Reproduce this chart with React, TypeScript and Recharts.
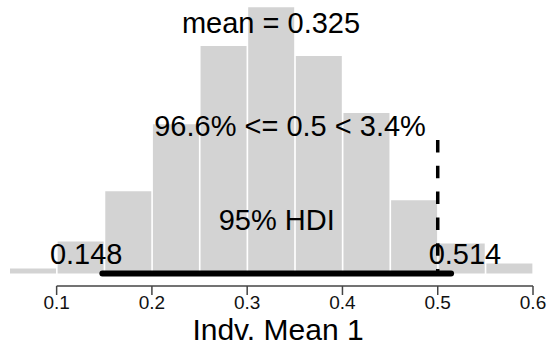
import React from 'react';
import { ComposedChart, Bar, XAxis, YAxis, ReferenceLine, ReferenceDot, Label } from 'recharts';

// posterior histogram of the first group mean
const binMids = [0.075, 0.125, 0.175, 0.225, 0.275, 0.325, 0.375, 0.425, 0.475, 0.525, 0.575];
const densities = [0.08, 0.51, 1.31, 2.38, 3.63, 4.25, 3.47, 2.56, 1.17, 0.48, 0.16];
const xTicks = [0.1, 0.2, 0.3, 0.4, 0.5, 0.6];

const meanValue = 0.325;
const compValue = 0.5;
const pctBelow = 96.6;
const pctAbove = 3.4;
const hdiLimits = [0.148, 0.514];
const hdiMass = 95;
const axisTitle = 'Indv. Mean 1';

const data = binMids.map((mid, i) => ({ mid, density: densities[i] }));

const FONT = '"Liberation Sans", Arial, Helvetica, sans-serif';

const textLabel = (value: string, size = 29) => ({
  value,
  position: 'center' as const,
  fill: '#000',
  fontSize: size,
  fontFamily: FONT,
});

export default function App() {
  return (
    <div style={{ position: 'absolute', top: 0, left: 0, width: 548, height: 345, background: '#fff', fontFamily: FONT }}>
      <ComposedChart width={548} height={345} data={data} margin={{ top: 4, right: 15, bottom: 0, left: 9 }} barCategoryGap={1}>
        <XAxis
          dataKey="mid"
          type="number"
          domain={[0.05, 0.6]}
          ticks={xTicks}
          interval={0}
          axisLine={false}
          tickLine={{ stroke: '#444', strokeWidth: 1.5 }}
          tickSize={9}
          tickMargin={1}
          height={59}
          tick={{ fontSize: 19, fill: '#111', fontFamily: FONT }}
        >
          <Label value={axisTitle} position="insideBottom" offset={5} dx={7} fontSize={30} fill="#000" fontFamily={FONT} />
        </XAxis>
        <YAxis hide domain={[-0.2, 4.3]} />
        <Bar dataKey="density" fill="#d3d3d3" isAnimationActive={false} />

        {/* axis line from first to last tick */}
        <ReferenceLine
          segment={[{ x: xTicks[0], y: -0.2 }, { x: xTicks[xTicks.length - 1], y: -0.2 }]}
          stroke="#444"
          strokeWidth={1.5}
          ifOverflow="visible"
        />

        {/* comparison value */}
        <ReferenceLine
          segment={[{ x: compValue, y: 2.13 }, { x: compValue, y: 0 }]}
          stroke="#000"
          strokeWidth={3.5}
          strokeDasharray="12.5 13.3"
          ifOverflow="visible"
        />

        {/* HDI bar */}
        <ReferenceLine
          segment={[{ x: hdiLimits[0], y: 0 }, { x: hdiLimits[1], y: 0 }]}
          stroke="#000"
          strokeWidth={6}
          strokeLinecap="round"
          ifOverflow="visible"
        />

        <ReferenceDot x={meanValue} y={4.0} r={0} stroke="none" fill="none" ifOverflow="visible"
          label={textLabel(`mean = ${meanValue}`)} />
        <ReferenceDot x={0.345} y={2.35} r={0} stroke="none" fill="none" ifOverflow="visible"
          label={textLabel(`${pctBelow}% <= ${compValue} < ${pctAbove}%`)} />
        <ReferenceDot x={(hdiLimits[0] + hdiLimits[1]) / 2} y={0.86} r={0} stroke="none" fill="none" ifOverflow="visible"
          label={textLabel(`${hdiMass}% HDI`)} />
        <ReferenceDot x={0.131} y={0.31} r={0} stroke="none" fill="none" ifOverflow="visible"
          label={textLabel(`${hdiLimits[0]}`)} />
        <ReferenceDot x={0.5286} y={0.31} r={0} stroke="none" fill="none" ifOverflow="visible"
          label={textLabel(`${hdiLimits[1]}`)} />
      </ComposedChart>
    </div>
  );
}
